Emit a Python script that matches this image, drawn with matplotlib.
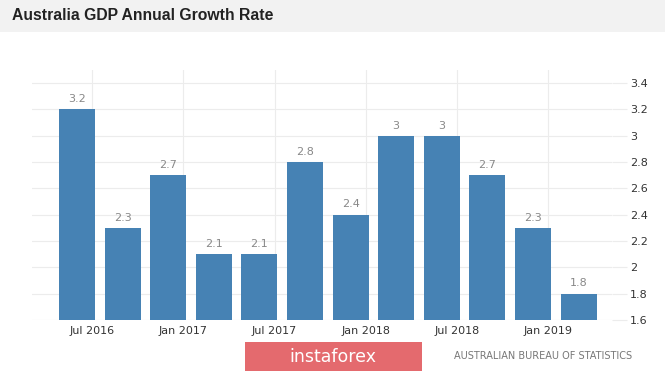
"""Australia GDP annual growth rate, quarterly bars."""

import matplotlib

matplotlib.use("Agg")

import matplotlib.pyplot as plt
from matplotlib.patches import Rectangle

# quarters Jun 2016 .. Mar 2019, placed by month offset from Jun 2016
month_offsets = [0, 3, 6, 9, 12, 15, 18, 21, 24, 27, 30, 33]
growth = [3.2, 2.3, 2.7, 2.1, 2.1, 2.8, 2.4, 3, 3, 2.7, 2.3, 1.8]
value_labels = ["3.2", "2.3", "2.7", "2.1", "2.1", "2.8", "2.4", "3", "3", "2.7", "2.3", "1.8"]

tick_months = [1, 7, 13, 19, 25, 31]
tick_labels = ["Jul 2016", "Jan 2017", "Jul 2017", "Jan 2018", "Jul 2018", "Jan 2019"]
y_ticks = [1.6, 1.8, 2, 2.2, 2.4, 2.6, 2.8, 3, 3.2, 3.4]
y_labels = ["1.6", "1.8", "2", "2.2", "2.4", "2.6", "2.8", "3", "3.2", "3.4"]

BAR = "#4682b4"
GRID = "#ececec"

fig = plt.figure(figsize=(6.65, 3.72), dpi=100)
fig.patch.set_facecolor("white")

# header band
fig.patches.append(Rectangle((0, 1 - 32 / 372), 1, 32 / 372, transform=fig.transFigure,
                             facecolor="#f2f2f2", edgecolor="none", zorder=0))
fig.text(12 / 665, 1 - 16 / 372, "Australia GDP Annual Growth Rate", fontsize=11.3,
         fontweight="bold", family="Liberation Sans", color="#222222", va="center", ha="left")

ax = fig.add_axes([32 / 665, 52 / 372, 580 / 665, 250 / 372])
ax.bar(month_offsets, [g - 1.6 for g in growth], bottom=1.6, width=2.37, color=BAR, zorder=2)
for m, g, lab in zip(month_offsets, growth, value_labels):
    ax.text(m, g + 0.04, lab, ha="center", va="bottom", fontsize=8, color="#888888")

ax.set_xlim(-2.96, 35.2)
ax.set_ylim(1.6, 3.5)
ax.set_xticks(tick_months)
ax.set_xticklabels(tick_labels, fontsize=8, color="#333333")
ax.set_yticks(y_ticks)
ax.set_yticklabels(y_labels, fontsize=8, color="#333333")
ax.yaxis.tick_right()
ax.tick_params(axis="y", length=11, color=GRID, pad=2)
ax.tick_params(axis="x", length=0, pad=4)
ax.grid(True, color=GRID, linewidth=0.8, zorder=0)
for s in ax.spines.values():
    s.set_visible(False)

# footer
fig.patches.append(Rectangle((245 / 665, 1 / 372), 177 / 665, 29 / 372, transform=fig.transFigure,
                             facecolor="#e46a6e", edgecolor="none", zorder=1))
fig.text(333 / 665, 15 / 372, "instaforex", fontsize=12.5, color="white", ha="center",
         va="center", zorder=2)
fig.text(543 / 665, 16 / 372, "AUSTRALIAN BUREAU OF STATISTICS", fontsize=7,
         color="#777777", ha="center", va="center")

fig.savefig("out.png", dpi=100, facecolor="white")
